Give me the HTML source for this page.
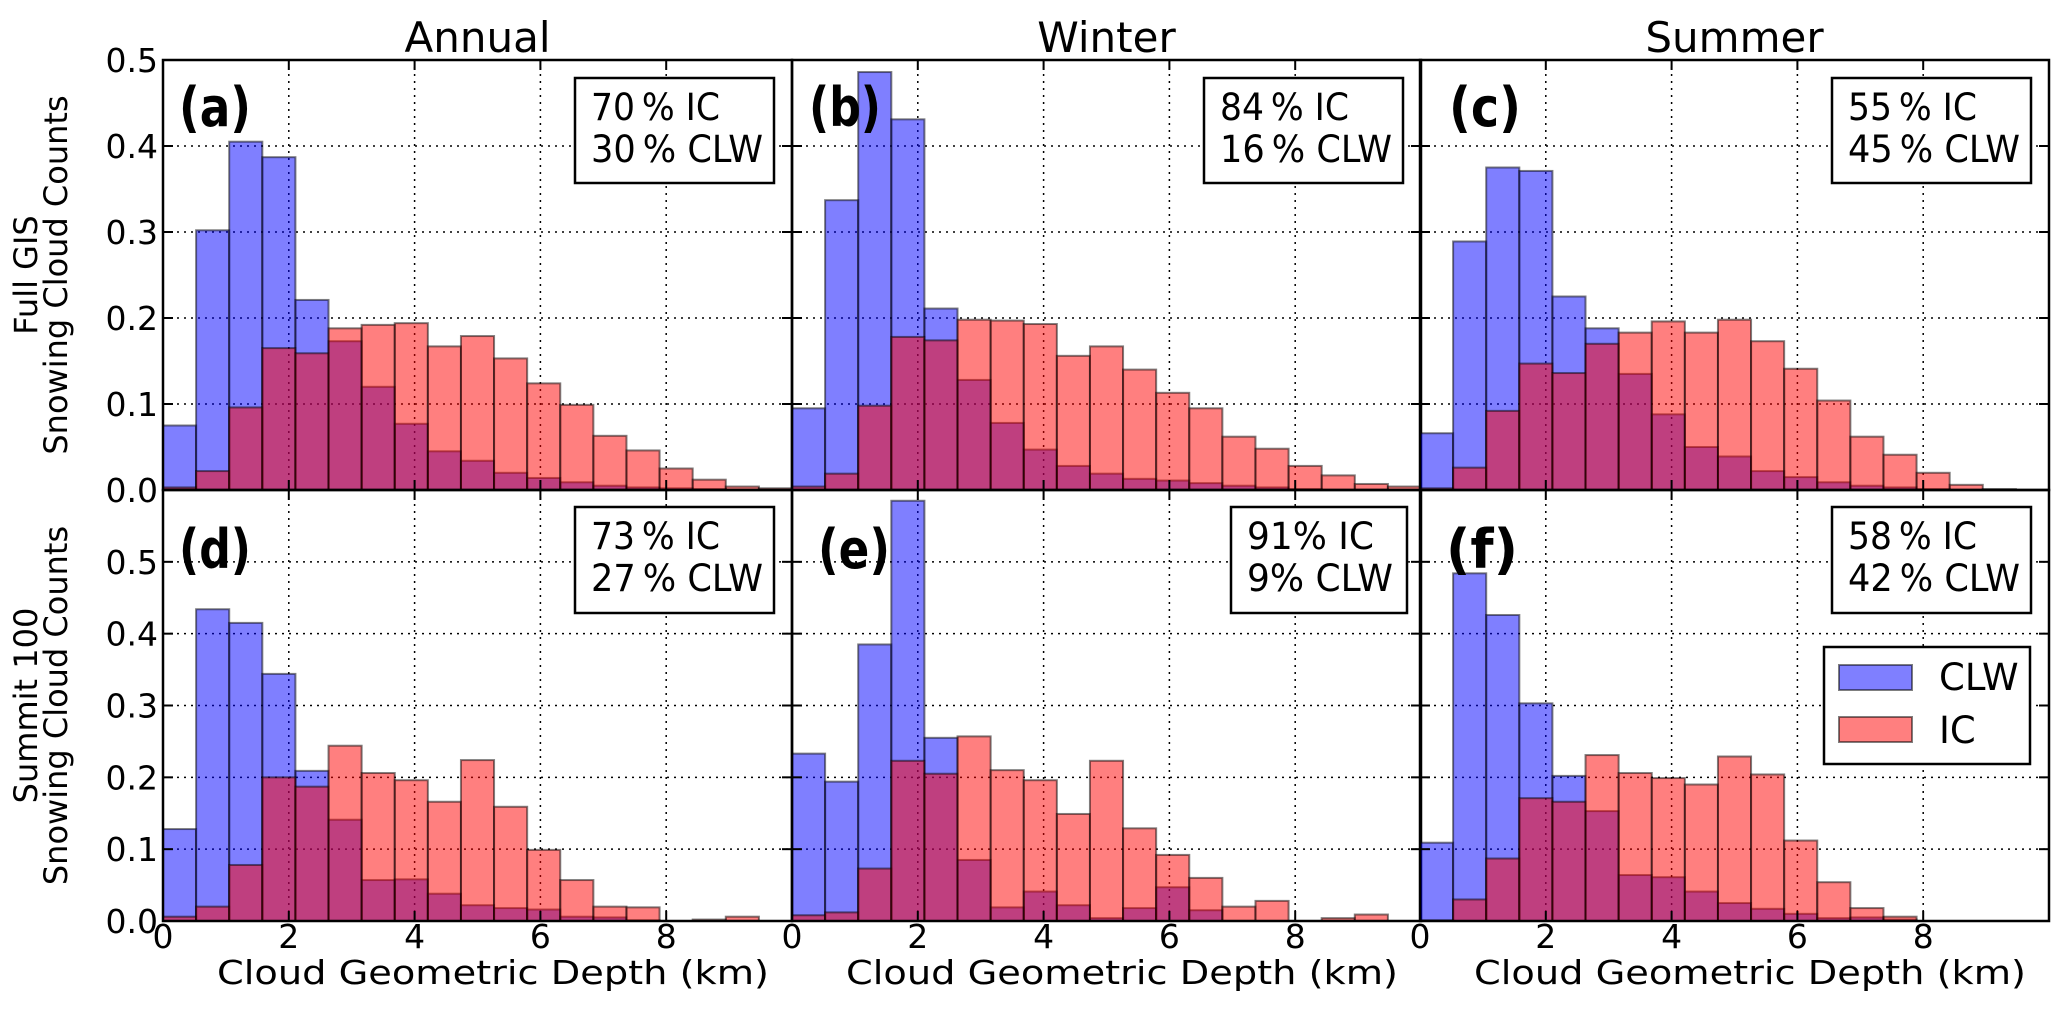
<!DOCTYPE html>
<html><head><meta charset="utf-8">
<style>
html,body{margin:0;padding:0;background:#fff;}
svg{display:block;font-family:"DejaVu Sans","Liberation Sans",sans-serif;}
</style></head>
<body>
<svg id="fig" width="2067" height="1025" viewBox="0 0 2067 1025" xmlns="http://www.w3.org/2000/svg">
<rect x="0" y="0" width="2067" height="1025" fill="#fff"/>
</svg>
<script>
// ---- data ----
const binEdgesMax = 10;
const binCount = 19;
const panelLetters = ["(a)","(b)","(c)","(d)","(e)","(f)"];
const colTitles = ["Annual","Winter","Summer"];
const rowLabels1 = ["Full GIS","Summit 100"];
const rowLabel2 = "Snowing Cloud Counts";
const icPct = ["70","84","55","73","91","58"];
const clwPct = ["30","16","45","27","9","42"];
const yTicksTop = [0.0,0.1,0.2,0.3,0.4,0.5];
const yTicksBottom = [0.0,0.1,0.2,0.3,0.4,0.5];
const yMaxRow = [0.5,0.6];
const xTicks = [0,2,4,6,8];
const clwA = [0.075,0.302,0.405,0.387,0.221,0.173,0.12,0.077,0.045,0.034,0.02,0.014,0.009,0.005,0.003,0.002,0.001,0,0];
const icA  = [0.003,0.022,0.096,0.165,0.159,0.188,0.192,0.194,0.167,0.179,0.153,0.124,0.099,0.063,0.046,0.025,0.012,0.004,0.002];
const clwB = [0.095,0.337,0.486,0.431,0.211,0.128,0.078,0.047,0.028,0.019,0.013,0.011,0.008,0.005,0.003,0.001,0,0,0];
const icB  = [0.004,0.019,0.098,0.178,0.174,0.198,0.197,0.193,0.156,0.167,0.14,0.113,0.095,0.062,0.048,0.028,0.017,0.007,0.004];
const clwC = [0.066,0.289,0.375,0.371,0.225,0.188,0.135,0.088,0.05,0.039,0.022,0.015,0.009,0.005,0.003,0.001,0,0,0];
const icC  = [0.002,0.026,0.092,0.147,0.136,0.17,0.183,0.196,0.183,0.198,0.173,0.141,0.104,0.062,0.041,0.02,0.006,0.001,0];
const clwD = [0.128,0.434,0.415,0.344,0.209,0.141,0.057,0.058,0.038,0.022,0.018,0.016,0.006,0.005,0.001,0,0,0,0];
const icD  = [0.006,0.02,0.078,0.2,0.187,0.244,0.206,0.196,0.166,0.224,0.159,0.099,0.057,0.02,0.019,0,0.002,0.006,0];
const clwE = [0.233,0.194,0.385,0.585,0.255,0.085,0.019,0.041,0.022,0.004,0.018,0.047,0.015,0,0,0,0,0,0];
const icE  = [0.008,0.012,0.073,0.223,0.205,0.257,0.21,0.196,0.149,0.223,0.129,0.092,0.06,0.02,0.028,0,0.004,0.009,0];
const clwF = [0.109,0.484,0.426,0.303,0.202,0.153,0.064,0.061,0.041,0.025,0.017,0.01,0.004,0.005,0.002,0,0,0,0];
const icF  = [0.001,0.03,0.087,0.171,0.166,0.231,0.206,0.199,0.19,0.229,0.204,0.112,0.054,0.018,0.006,0,0,0,0];
const clwSeries = [clwA,clwB,clwC,clwD,clwE,clwF];
const icSeries = [icA,icB,icC,icD,icE,icF];

// ---- layout ----
const NS = "http://www.w3.org/2000/svg";
const svg = document.getElementById("fig");
const colX = [163, 792, 1420];
const panelW = 629;
const rowY = [[60,490],[490,921]];
const letterDx = [16,17,29,16,26,26];
function mk(tag, attrs, parent){
  const e = document.createElementNS(NS, tag);
  for (const k in attrs) e.setAttribute(k, attrs[k]);
  (parent||svg).appendChild(e);
  return e;
}
function txt(s, attrs, parent){ const e = mk("text", attrs, parent); e.textContent = s; return e; }

for (let r=0;r<2;r++){
  for (let c=0;c<3;c++){
    const idx = r*3+c;
    const x0 = colX[c], x1 = x0+panelW, y0 = rowY[r][0], y1 = rowY[r][1];
    const ymax = yMaxRow[r];
    const xs = v => x0 + v/binEdgesMax*panelW;
    const ys = v => y1 - v/ymax*(y1-y0);
    const g = mk("g", {});
    
    
    const yt = r===0 ? yTicksTop : yTicksBottom;
    xTicks.forEach(t=>{
      if (t===0) return;
      const l = mk("line",{x1:xs(t),x2:xs(t),y1:y0,y2:y1,stroke:"#000","stroke-width":1.5,"stroke-dasharray":"2,5"},g);
      
      
    });
    yt.forEach(t=>{
      if (t===0 || t===ymax) return;
      const l = mk("line",{x1:x0,x2:x1,y1:ys(t),y2:ys(t),stroke:"#000","stroke-width":1.5,"stroke-dasharray":"2,5"},g);
      
      
    });
    const bw = binEdgesMax/binCount;
    [[clwSeries[idx],"#0000ff","clw"],[icSeries[idx],"#ff0000","ic"]].forEach(([vals,col,nm])=>{
      vals.forEach((v,i)=>{
        if (v<=0) return;
        const b = mk("rect",{x:xs(i*bw),y:ys(v),width:xs((i+1)*bw)-xs(i*bw),height:ys(0)-ys(v),fill:col,"fill-opacity":0.5,stroke:"#000","stroke-opacity":0.5,"stroke-width":2},g);
        
        
      });
    });
    xTicks.forEach(t=>{
      mk("line",{x1:xs(t),x2:xs(t),y1:y1,y2:y1-10,stroke:"#000","stroke-width":2},g);
      mk("line",{x1:xs(t),x2:xs(t),y1:y0,y2:y0+10,stroke:"#000","stroke-width":2},g);
    });
    yt.forEach(t=>{
      mk("line",{x1:x0,x2:x0+10,y1:ys(t),y2:ys(t),stroke:"#000","stroke-width":2},g);
      mk("line",{x1:x1,x2:x1-10,y1:ys(t),y2:ys(t),stroke:"#000","stroke-width":2},g);
    });
    const fr = mk("rect",{x:x0,y:y0,width:panelW,height:y1-y0,fill:"none",stroke:"#000","stroke-width":2.5},g);
    
    
    if (c===0){
      yt.forEach(t=>{
        const tl = txt(t.toFixed(1),{x:x0-5,y:ys(t)+12,"text-anchor":"end","font-size":33},g);
        
        
      });
    }
    if (r===1){
      xTicks.forEach(t=>{
        const tl = txt(String(t),{x:xs(t),y:y1+27,"text-anchor":"middle","font-size":33},g);
        
        
      });
      const xl = txt("Cloud Geometric Depth (km)",{x:x0+330,y:984,"text-anchor":"middle","font-size":33,textLength:552,lengthAdjust:"spacingAndGlyphs"},g);
      
      
    }
    if (r===0){
      const tt = txt(colTitles[c],{x:x0+panelW/2,y:52,"text-anchor":"middle","font-size":42},g);
      
      
    }
    const pl = txt(panelLetters[idx],{x:x0+letterDx[idx],y:y0+66+(r===1?12:0),"font-size":54,"font-weight":"bold",textLength:72,lengthAdjust:"spacingAndGlyphs"},g);
    
    
    const narrow = idx===4;
    const bx = narrow ? x1-190 : x1-217;
    const bwid = narrow ? 176 : 199;
    const by = y0 + (r===0 ? 18 : 17);
    const bh = r===0 ? 105 : 106;
    const pb = mk("rect",{x:bx,y:by,width:bwid,height:bh,fill:"#fff",stroke:"#000","stroke-width":2.5},g);
    
    
    const sp = narrow ? "" : "\u2009";
    const t1 = txt(icPct[idx]+sp+"% IC",{x:bx+16,y:by+42,"font-size":37,textLength:narrow?127:129,lengthAdjust:"spacingAndGlyphs"},g);
    
    
    const t2 = txt(clwPct[idx]+sp+"% CLW",{x:bx+16,y:by+84,"font-size":37,textLength:narrow?146:172,lengthAdjust:"spacingAndGlyphs"},g);
    
    
  }
  const cy = (rowY[r][0]+rowY[r][1])/2;
  const l1 = txt(rowLabels1[r],{x:0,y:0,"text-anchor":"middle","font-size":32,transform:`translate(37,${cy}) rotate(-90)`});
  
  
  const l2 = txt(rowLabel2,{x:0,y:0,"text-anchor":"middle","font-size":32,transform:`translate(67,${cy}) rotate(-90)`});
  
  
}
const lg = mk("g",{});


mk("rect",{x:1824,y:647,width:206,height:117,fill:"#fff",stroke:"#000","stroke-width":2.5},lg);
const s1 = mk("rect",{x:1839,y:665,width:73,height:25,fill:"#0000ff","fill-opacity":0.5,stroke:"#000","stroke-opacity":0.5,"stroke-width":2},lg);


const lt1 = txt("CLW",{x:1939,y:690,"font-size":37},lg);


const s2 = mk("rect",{x:1839,y:717,width:73,height:25,fill:"#ff0000","fill-opacity":0.5,stroke:"#000","stroke-opacity":0.5,"stroke-width":2},lg);


const lt2 = txt("IC",{x:1939,y:743,"font-size":37},lg);


</script>
</body></html>
